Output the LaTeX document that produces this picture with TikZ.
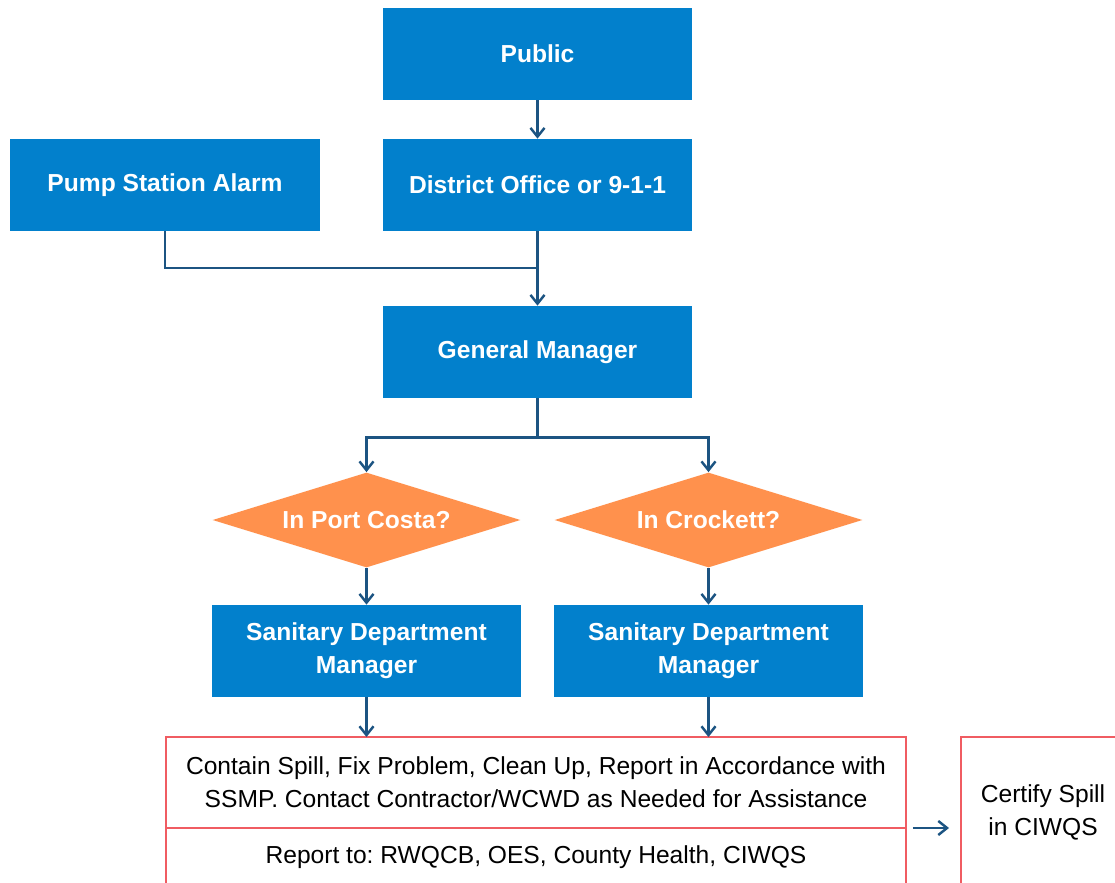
\documentclass[tikz,border=0pt]{standalone}
\usepackage{fontspec}
\setmainfont{Liberation Sans}
\usetikzlibrary{shapes.geometric,arrows.meta}

\definecolor{boxblue}{RGB}{2,128,204}
\definecolor{decorange}{RGB}{255,145,77}
\definecolor{linkblue}{RGB}{28,84,130}
\definecolor{outlinered}{RGB}{240,92,98}

\tikzset{
	bluebox/.style={rectangle, fill=boxblue, text=white, font=\fontsize{14}{18.8}\selectfont\bfseries,
		align=center, minimum width=6.18cm, minimum height=1.84cm, inner sep=0pt},
	decision/.style={diamond, fill=decorange, text=white, font=\fontsize{14}{18.8}\selectfont\bfseries,
		shape aspect=3.24, minimum width=6.16cm, minimum height=1.9cm, inner sep=0pt},
	redbox/.style={rectangle, draw=outlinered, line width=1.1pt, fill=white, text=black,
		font=\fontsize{14}{18.8}\selectfont, align=center, inner sep=0pt, outer sep=0pt},
	link/.style={draw=linkblue, line width=1.4pt},
	arr/.style={link, -{Straight Barb[length=5pt,width=8pt,line width=1.4pt]}},
}

\begin{document}
\frenchspacing
\begin{tikzpicture}[x=0.02cm, y=-0.02cm]
	\useasboundingbox (0,0) rectangle (1115,882);
	\clip (0,0) rectangle (1115,882);

	\node[bluebox] (public) at (537.5,54) {Public};
	\node[bluebox] (district) at (537.5,185) {District Office or 9-1-1};
	\node[bluebox, minimum width=6.2cm] (pump) at (165,185) {Pump Station Alarm};
	\node[bluebox] (gm) at (537.5,352) {General Manager};

	\node[decision] (portcosta) at (366.5,520) {In Port Costa?};
	\node[decision] (crockett) at (708.5,520) {In Crockett?};

	\node[bluebox] (sanpc) at (366.5,651) {Sanitary Department\\Manager};
	\node[bluebox] (sancr) at (708.5,651) {Sanitary Department\\Manager};

	\node[redbox, minimum width=14.8cm, minimum height=1.82cm] (task) at (536,782.5)
		{Contain Spill, Fix Problem, Clean Up, Report in Accordance with\\SSMP. Contact Contractor/WCWD as Needed for Assistance};
	\node[redbox, minimum width=14.8cm, minimum height=1.16cm, anchor=north] (report) at (task.south)
		{Report to: RWQCB, OES, County Health, CIWQS};
	\node[redbox, minimum width=3.28cm, minimum height=3.02cm, anchor=north] (certify) at (task.north -| 1043,0)
		{Certify Spill\\in CIWQS};

	% alarm and office join before the manager
	\coordinate (join) at (537.5,268);
	\draw[link] (pump.south) |- (join);
	\draw[arr] (public.south) -- (district.north);
	\draw[arr] (district.south) -- (gm.north);

	\draw[arr] (gm.south) -- ++(0,39) -| (portcosta.north);
	\draw[arr] (gm.south) -- ++(0,39) -| (crockett.north);
	\draw[arr] (portcosta.south) -- (sanpc.north);
	\draw[arr] (crockett.south) -- (sancr.north);
	\draw[arr] (sanpc.south) -- (sanpc.south |- task.north);
	\draw[arr] (sancr.south) -- (sancr.south |- task.north);

	\draw[arr] ([xshift=0.14cm]task.south east) -- ([xshift=-0.24cm]task.south east -| certify.west);
\end{tikzpicture}
\end{document}
